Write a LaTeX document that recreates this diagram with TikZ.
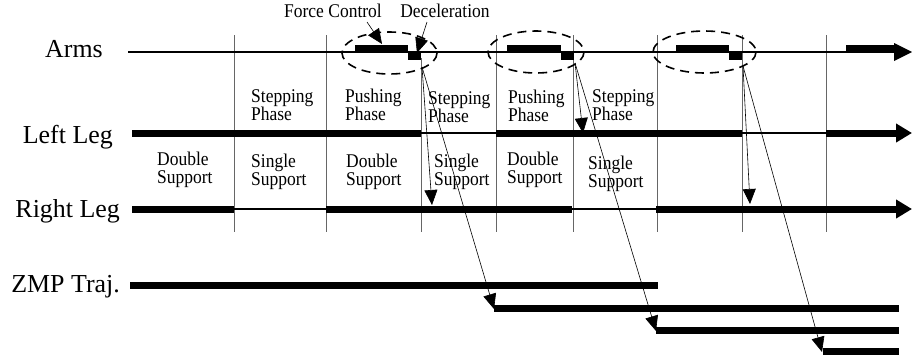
\documentclass[tikz,border=0pt]{standalone}
\usepackage{fontspec}
\setmainfont{Liberation Serif}
\newfontfamily\narrowserif[FakeStretch=0.9]{Liberation Serif}
\usetikzlibrary{arrows.meta}
\usetikzlibrary{positioning}

\tikzset{
  bar/.style={line width=7bp},
  barrow/.style={line width=7bp,-{Triangle[length=16bp,width=18bp]}},
  thinline/.style={line width=1.1bp},
  gridline/.style={line width=0.8bp,black!60},
  oval/.style={line width=1.6bp,dash pattern=on 9bp off 6bp},
  ptr/.style={line width=0.6bp,-{Triangle[length=15bp,width=13bp]}},
  rowlabel/.style={font=\fontsize{26}{28}\selectfont,anchor=base east,inner sep=0pt},
  cell/.style={font=\narrowserif\fontsize{19.5}{18}\selectfont,align=left,anchor=base west,inner sep=0pt},
  tag/.style={font=\narrowserif\fontsize{19.5}{18}\selectfont,anchor=base,inner sep=0pt}
}

\begin{document}
\begin{tikzpicture}[x=1bp,y=-1bp]
\useasboundingbox (0,0) rectangle (912,362);

% row labels
\node[rowlabel] (arms) at (103,57) {Arms};
\node[rowlabel] (lleg) at (113,143) {Left Leg};
\node[rowlabel] (rleg) at (120,217) {Right Leg};
\node[rowlabel] (zmp) at (120,292) {ZMP Traj.};

% phase boundaries
\foreach \x in {234,326,496,573,657,742,826}
  \draw[gridline] (\x,35) -- (\x,232);
\draw[gridline] (421,58) -- (421,232);

% arms
\draw[thinline] (128,52) -- (850,52);
\fill (355,45) rectangle (408,52.5);
\fill (408,52) rectangle (421,60);
\fill (507,45) rectangle (561,52.5);
\fill (561,52) rectangle (574,60);
\fill (676,45) rectangle (729,52.5);
\fill (729,52) rectangle (742,60);
\fill (846,45) rectangle (896,52.5);
\fill (894,43) -- (912,52) -- (894,61) -- cycle;

% left leg
\draw[thinline] (132,133) -- (900,133);
\draw[bar] (132,133) -- (421,133);
\draw[bar] (496,133) -- (742,133);
\draw[barrow] (826,133) -- (912,133);

% right leg
\draw[thinline] (132,209) -- (900,209);
\draw[bar] (132,209) -- (234,209);
\draw[bar] (326,209) -- (572,209);
\draw[barrow] (656,209) -- (912,209);

% zmp trajectory
\draw[bar] (130,285) -- (658,285);
\draw[bar] (494,308) -- (899,308);
\draw[bar] (656,330) -- (899,330);
\draw[bar] (823,351) -- (899,351);

% dashed ovals
\draw[oval] (389.5,53) ellipse [x radius=47.5,y radius=21];
\draw[oval] (536,52) ellipse [x radius=48,y radius=21];
\draw[oval] (704.5,52) ellipse [x radius=51.5,y radius=21];

% phase texts (anchored on the second line)
\node[cell] (st1) at (251,120) {Stepping\\Phase};
\node[cell] (pu1) at (345,120) {Pushing\\Phase};
\node[cell] (st2) at (428,122) {Stepping\\Phase};
\node[cell] (pu2) at (508,121) {Pushing\\Phase};
\node[cell] (st3) at (592,120) {Stepping\\Phase};

\node[cell] (ds1) at (157,183) {Double\\Support};
\node[cell] (ss1) at (251,185) {Single\\Support};
\node[cell] (ds2) at (346,185) {Double\\Support};
\node[cell] (ss2) at (434,185) {Single\\Support};
\node[cell] (ds3) at (507,183) {Double\\Support};
\node[cell] (ss3) at (588,187) {Single\\Support};

% force control / deceleration
\node[tag] (fc) at (333,17) {Force Control};
\node[tag] (dc) at (445,17) {Deceleration};
\coordinate (fcs) at (367,22);
\coordinate (fce) at (382,44);
\coordinate (dcs) at (427,22);
\coordinate (dce) at (417,53);
\draw[ptr] (fcs) -- (fce);
\draw[ptr] (dcs) -- (dce);

% transitions
\coordinate (d1) at (422,67);
\coordinate (d2) at (575,63);
\coordinate (d3) at (743,66);
\coordinate (r1) at (432,205);
\coordinate (l2) at (583,133);
\coordinate (r3) at (750,204);
\coordinate (z2) at (494,309);
\coordinate (z3) at (656,331);
\coordinate (z4) at (822,352);
\draw[ptr] (d1) -- (r1);
\draw[ptr] (d1) -- (z2);
\draw[ptr] (d2) -- (l2);
\draw[ptr] (d2) -- (z3);
\draw[ptr] (d3) -- (r3);
\draw[ptr] (d3) -- (z4);

\end{tikzpicture}
\end{document}
